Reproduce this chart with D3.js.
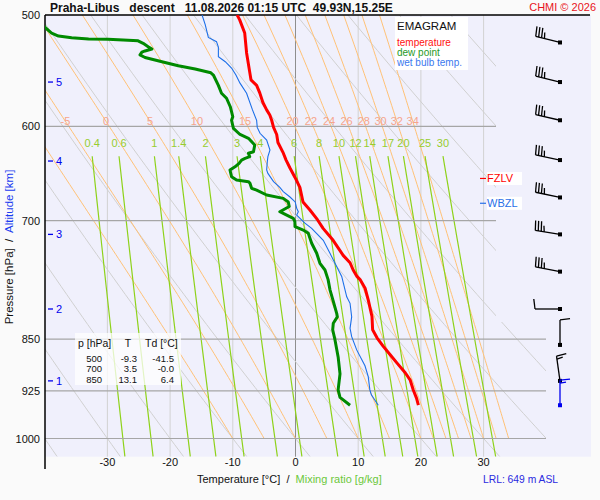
<!DOCTYPE html>
<html>
<head>
<meta charset="utf-8">
<script src="https://cdn.jsdelivr.net/npm/d3@7"></script>
<style>
  body { margin: 0; background: #fafafa; }
  svg { display: block; font-family: "Liberation Sans", Arial, sans-serif; }
  text { white-space: pre; }
</style>
</head>
<body>
<svg width="600" height="500"></svg>
<script>
// ---- sounding data ----
const tempP = [500,504,515,532,549,556,561,568,577,584,589,594,601,608,616,626,634,642,652,663,679,688,699,709,723,741,750,759,767,771,782,797,819,837,848,860,872,884,898,909,924,936,947];
const tempT = [-9.3,-8.9,-8.1,-7.8,-7.3,-7.1,-6.2,-5.7,-5.2,-4.6,-4.1,-3.8,-3.5,-3.0,-2.8,-2.0,-1.5,-0.9,-0.1,0.7,1.2,2.3,3.5,4.4,6.0,7.6,8.7,9.2,9.8,10.3,11.1,11.6,12.2,12.3,13.0,14.0,15.1,16.2,17.5,18.3,18.8,19.3,19.6];

const dewP = [500,510.5,515,517.5,519,520,520.3,521,521.6,523.7,526.6,528.6,530.3,531.4,533.8,536,539.7,543.3,546.2,549.6,551.6,561,568.3,573,581,590.6,594,601.9,608,611.8,618.6,625.4,627,630.5,632.3,634,637.4,641,644.4,651.5,655,656.8,658.5,664,666,671.3,675,679,684,689.9,693.7,697.4,701.3,707,711,714.8,726.5,738.5,750.7,759,771,784,799,814.7,819.5,828,837,851,875,899.6,923.6,935,947];
const dewTd = [-41.5,-39.9,-38.9,-37.8,-35.7,-33.0,-29.9,-26.7,-25.1,-24.3,-23.5,-22.9,-24.0,-24.5,-24.8,-24.0,-21.3,-18.7,-16.0,-13.5,-13.1,-12.3,-11.8,-11.0,-10.4,-10.0,-10.2,-9.9,-8.85,-7.5,-6.5,-6.7,-7.5,-7.3,-8.05,-8.6,-9.0,-9.65,-10.45,-10.2,-9.4,-7.5,-7.26,-7.0,-6.2,-4.6,-1.95,-1.15,-1.0,-2.5,-1.4,-0.35,-0.1,-0.08,1.24,2.04,2.58,3.38,3.9,4.7,5.2,5.5,6.03,6.57,6.67,6.03,5.93,6.3,6.8,7.1,6.8,7.1,8.7];

const wetP = [500,508,518.7,522.3,527,535.3,539.7,545.3,551.6,559,568.3,584,594,601,606.8,613.5,623.6,630.5,635.7,644.4,648,656.8,663,667.6,673.5,679,686,689.9,693.7,697.4,703,709,723,738.5,750.7,767,793,801.5,819.5,835,846.5,865,887.7,903.8,923.6,931,947];
const wetTw = [-14.9,-14.4,-13.9,-12.6,-12.3,-12.3,-11.2,-10.2,-9.5,-8.85,-7.8,-6.86,-6.2,-6.1,-5.66,-4.6,-4.07,-4.4,-4.5,-4.6,-4.4,-3.5,-2.5,-1.95,-0.88,-0.05,0.19,0.45,0.19,0.72,1.5,2.58,4.43,5.5,6.3,7.37,8.17,8.7,8.96,8.7,8.96,9.76,11.08,11.6,11.86,12.1,13.2];

// wind barbs (black = sounding, blue = surface)
const windP = [523,558,594,634,674,716,761,809,858,910];
const windDir = [284,284,283,282,282,279,281,270,360,352];
const windKt = [35,35,35,35,35,35,35,10,10,15];
const sfcWind = { p: 947, dir: 360, kt: 15 };

// axes & background lines
const pLevels = [500,600,700,850,925,1000];
const tTicks = [-30,-20,-10,0,10,20,30];
const altKm = [1,2,3,4,5];
const altP = [910,809,716,635,558];
const mixRatios = [0.4,0.6,1,1.4,2,3,4,6,8,10,12,14,17,20,25,30];
const thetaW = [-10,-5,0,5,10,15,20,22,24,26,28,30,32,34];
const thetaWLabels = [-5,0,5,10,15,20,22,24,26,28,30,32,34];
const thetaD = [-40,-30,-20,-10,0,10,20,30,40,50,60,70,80,90,100,110,120];

const tableHead = ["p [hPa]", "T", "Td [°C]"];
const tableRows = [["500","-9.3","-41.5"],["700","3.5","-0.0"],["850","13.1","6.4"]];

// ---- layout ----
const svg = d3.select('svg');
const plotL = 45, plotR = 591, plotT = 15, plotB = 456.7;
const x = d3.scaleLinear().domain([-40, 40]).range([44.7, 546.3]);
const y = d3.scaleLog().domain([500, 1000]).range([15, 438.5]);

const defs = svg.append('defs');
defs.append('clipPath').attr('id', 'bgclip')
  .append('polygon')
  .attr('points', `${plotL},${plotT} 496,${plotT} 496,322 546,322 546,${plotB} ${plotL},${plotB}`);
defs.append('clipPath').attr('id', 'plotclip')
  .append('rect').attr('x', plotL).attr('y', plotT)
  .attr('width', plotR - plotL).attr('height', plotB - plotT);

svg.append('rect').attr('x', plotL).attr('y', plotT)
  .attr('width', plotR - plotL).attr('height', plotB - plotT)
  .attr('fill', '#f0f0fc');

// vertical temperature gridlines
svg.append('g').selectAll('line').data(tTicks).enter().append('line')
  .attr('x1', d => x(d)).attr('x2', d => x(d))
  .attr('y1', plotT).attr('y2', plotB)
  .attr('stroke', d => d === 0 ? '#8e8e8e' : '#d2d2d2').attr('stroke-width', 1);

// thermodynamic helpers
const es = tc => 6.112 * Math.exp(17.67 * tc / (tc + 243.5));
function moistSlope(p, T) {
  const Rd = 287.04, Cp = 1005.7, Lv = 2.501e6, eps = 0.622;
  const e = es(T - 273.15), rs = eps * e / (p - e);
  return (1 / p) * (Rd * T + Lv * rs) / (Cp + Lv * Lv * rs * eps / (Rd * T * T));
}
function moistLine(tw) {
  let p = 1000, T = tw + 273.15, h = -5;
  const pts = [[p, tw]];
  while (p > 500) {
    const k1 = moistSlope(p, T);
    const k2 = moistSlope(p + h / 2, T + h / 2 * k1);
    const k3 = moistSlope(p + h / 2, T + h / 2 * k2);
    const k4 = moistSlope(p + h, T + h * k3);
    T += h / 6 * (k1 + 2 * k2 + 2 * k3 + k4);
    p += h;
    pts.push([p, T - 273.15]);
  }
  return pts;
}
function dryLine(th) {
  const pts = [];
  for (let p = 500; p <= 1030; p += 10) pts.push([p, (th + 273.15) * Math.pow(p / 1000, 0.2857) - 273.15]);
  return pts;
}
function mixT(w, p) {
  const l = Math.log(w * p / (622 + w) / 6.112);
  return 243.5 * l / (17.67 - l);
}
function mixLine(w) {
  const pts = [];
  for (let p = 630; p <= 1030; p += 10) pts.push([p, mixT(w, p)]);
  return pts;
}

const lineFn = d3.line().x(d => x(d[1])).y(d => y(d[0]));
const bg = svg.append('g').attr('clip-path', 'url(#bgclip)');

bg.append('g').selectAll('path').data(thetaD.map(dryLine)).enter().append('path')
  .attr('d', lineFn).attr('fill', 'none').attr('stroke', '#d0d0d0').attr('stroke-width', 1);

const moistLines = thetaW.map(moistLine);
bg.append('g').selectAll('path').data(moistLines).enter().append('path')
  .attr('d', lineFn).attr('fill', 'none').attr('stroke', '#ffc176').attr('stroke-width', 1);

bg.append('g').selectAll('path').data(mixRatios.map(mixLine)).enter().append('path')
  .attr('d', lineFn).attr('fill', 'none').attr('stroke', '#8ed21a').attr('stroke-width', 1.2);

// horizontal pressure gridlines
svg.append('g').selectAll('line').data(pLevels.slice(1)).enter().append('line')
  .attr('x1', plotL).attr('x2', d => d >= 850 ? 546 : 496)
  .attr('y1', d => y(d)).attr('y2', d => y(d))
  .attr('stroke', '#a6a6a6').attr('stroke-width', 1.2);

// moist adiabat labels (at 595 hPa)
svg.append('g').selectAll('text').data(thetaWLabels).enter().append('text')
  .attr('x', d => {
    const pts = moistLines[thetaW.indexOf(d)];
    const pt = pts.find(q => Math.abs(q[0] - 595) < 0.1);
    return x(pt[1]);
  })
  .attr('y', y(595) + 4)
  .attr('text-anchor', 'middle').attr('font-size', 11).attr('fill', '#f6a58c')
  .text(d => d);

// mixing ratio labels
svg.append('g').selectAll('text').data(mixRatios).enter().append('text')
  .attr('x', d => x(mixT(d, 630)))
  .attr('y', 147)
  .attr('text-anchor', 'middle').attr('font-size', 11).attr('fill', '#97cd2e')
  .text(d => d);

// axes frame
svg.append('line').attr('x1', plotL).attr('x2', plotR - 1).attr('y1', plotT).attr('y2', plotT)
  .attr('stroke', '#000').attr('stroke-width', 1.5);
svg.append('line').attr('x1', plotL).attr('x2', plotL).attr('y1', plotT).attr('y2', 469)
  .attr('stroke', '#000').attr('stroke-width', 1.5);

// pressure labels
svg.append('g').selectAll('text').data(pLevels).enter().append('text')
  .attr('x', 40).attr('y', d => y(d) + 4)
  .attr('text-anchor', 'end').attr('font-size', 11).attr('fill', '#111')
  .text(d => d);

// altitude ticks
const alt = svg.append('g').selectAll('g').data(altKm).enter().append('g');
alt.append('line').attr('x1', 48).attr('x2', 53)
  .attr('y1', (d, i) => y(altP[i])).attr('y2', (d, i) => y(altP[i]))
  .attr('stroke', '#0000ee').attr('stroke-width', 1.3);
alt.append('text').attr('x', 56).attr('y', (d, i) => y(altP[i]) + 4)
  .attr('font-size', 11).attr('fill', '#0000ee').text(d => d);

// temperature tick labels
svg.append('g').selectAll('text').data(tTicks).enter().append('text')
  .attr('x', d => x(d)).attr('y', 466)
  .attr('text-anchor', 'middle').attr('font-size', 11).attr('fill', '#111')
  .text(d => d);

// table
svg.append('rect').attr('x', 75).attr('y', 333).attr('width', 106).attr('height', 52)
  .attr('fill', '#fff').attr('opacity', 0.75);
const tcols = [{ x: 78, a: 'start' }, { x: 128, a: 'middle' }, { x: 145, a: 'start' }];
svg.append('g').selectAll('text').data(tableHead).enter().append('text')
  .attr('x', (d, i) => tcols[i].x).attr('y', 347).attr('text-anchor', (d, i) => tcols[i].a)
  .attr('font-size', 10.5).attr('fill', '#111').text(d => d);
const rx = [102, 137, 174];
tableRows.forEach((row, r) => {
  svg.append('g').selectAll('text').data(row).enter().append('text')
    .attr('x', (d, i) => rx[i]).attr('y', 361.5 + r * 10.5).attr('text-anchor', 'end')
    .attr('font-size', 9.5).attr('fill', '#111').text(d => d);
});

// sounding curves
const curves = svg.append('g').attr('clip-path', 'url(#plotclip)');
const curveLine = d3.line().x(d => x(d[1])).y(d => y(d[0]));
curves.append('path').datum(wetP.map((p, i) => [p, wetTw[i]]))
  .attr('d', curveLine).attr('fill', 'none').attr('stroke', '#1c6fe8').attr('stroke-width', 1.1);
curves.append('path').datum(dewP.map((p, i) => [p, dewTd[i]]))
  .attr('d', curveLine).attr('fill', 'none').attr('stroke', '#008a00')
  .attr('stroke-width', 3).attr('stroke-linejoin', 'round');
curves.append('path').datum(tempP.map((p, i) => [p, tempT[i]]))
  .attr('d', curveLine).attr('fill', 'none').attr('stroke', '#ff0000')
  .attr('stroke-width', 3).attr('stroke-linejoin', 'round');

// freezing levels (lowest 0 °C crossing, searching upward from the ground)
function zeroLevel(ps, ts) {
  for (let i = ps.length - 1; i > 0; i--) {
    if (ts[i] >= 0 && ts[i - 1] < 0) {
      const f = ts[i] / (ts[i] - ts[i - 1]);
      return Math.exp(Math.log(ps[i]) + f * (Math.log(ps[i - 1]) - Math.log(ps[i])));
    }
  }
  return null;
}
const levels = [
  { name: 'FZLV', p: zeroLevel(tempP, tempT), c: '#ff0000' },
  { name: 'WBZL', p: zeroLevel(wetP, wetTw), c: '#2a70e8' }
];
levels.forEach(l => {
  const yy = y(l.p);
  svg.append('rect').attr('x', 487).attr('y', yy - 6.5).attr('width', 35).attr('height', 13).attr('fill', '#fff');
  svg.append('line').attr('x1', 480).attr('x2', 486).attr('y1', yy).attr('y2', yy)
    .attr('stroke', l.c).attr('stroke-width', 1.2);
  svg.append('text').attr('x', 487).attr('y', yy + 4).attr('font-size', 11)
    .attr('fill', l.c).text(l.name);
});

// wind barbs
function barb(p, dir, kt, color) {
  const px = 560, py = y(p);
  const r = dir * Math.PI / 180, sx = Math.sin(r), sy = -Math.cos(r);
  const L = 25, ex = px + sx * L, ey = py + sy * L;
  const fx = -sy, fy = sx;
  const g = svg.append('g').attr('stroke', color).attr('stroke-width', 1.3);
  g.append('line').attr('x1', px).attr('y1', py).attr('x2', ex).attr('y2', ey);
  const feathers = [];
  for (let k = 0; k < Math.floor(kt / 10); k++) feathers.push(10);
  if (kt % 10 >= 5) feathers.push(6);
  feathers.forEach((len, k) => {
    const bx = ex - sx * k * 3, by = ey - sy * k * 3;
    g.append('line').attr('x1', bx).attr('y1', by)
      .attr('x2', bx + fx * len + sx * 1.2).attr('y2', by + fy * len + sy * 1.2);
  });
  svg.append('rect').attr('x', px - 2).attr('y', py - 2).attr('width', 4).attr('height', 4).attr('fill', color);
}
windP.forEach((p, i) => barb(p, windDir[i], windKt[i], '#000'));
barb(sfcWind.p, sfcWind.dir, sfcWind.kt, '#0000ee');

// legend
svg.append('rect').attr('x', 395).attr('y', 17).attr('width', 73).attr('height', 53).attr('fill', '#fff');
svg.append('text').attr('x', 397).attr('y', 30).attr('font-size', 11.5).attr('fill', '#111').text('EMAGRAM');
[['temperature', '#ff1010', 46], ['dew point', '#1f9a1f', 55.5], ['wet bulb temp.', '#3a78ee', 65.5]]
  .forEach(d => svg.append('text').attr('x', 397).attr('y', d[2]).attr('font-size', 10).attr('fill', d[1]).text(d[0]));

// titles
svg.append('text').attr('x', 50).attr('y', 12).attr('font-size', 12).attr('font-weight', 'bold')
  .attr('fill', '#111').text('Praha-Libus   descent   11.08.2026 01:15 UTC  49.93N,15.25E');
svg.append('text').attr('x', 596).attr('y', 11).attr('text-anchor', 'end').attr('font-size', 11)
  .attr('fill', '#e8141c').text('CHMI © 2026');

const xt = svg.append('text').attr('x', 197).attr('y', 483).attr('font-size', 11);
xt.append('tspan').attr('fill', '#111').text('Temperature [°C]  /  ');
xt.append('tspan').attr('fill', '#6cc83a').text('Mixing ratio [g/kg]');

const yt = svg.append('text').attr('transform', 'translate(13,247) rotate(-90)')
  .attr('text-anchor', 'middle').attr('font-size', 11.5);
yt.append('tspan').attr('fill', '#111').text('Pressure [hPa]  /  ');
yt.append('tspan').attr('fill', '#1a3cf0').text('Altitude [km]');

svg.append('text').attr('x', 483).attr('y', 483).attr('font-size', 10.3).attr('fill', '#2a2ae0')
  .text('LRL: 649 m ASL');
</script>
</body>
</html>
